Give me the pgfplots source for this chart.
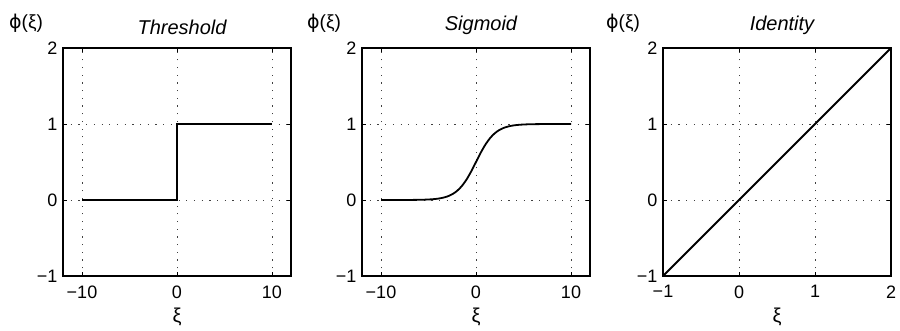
\documentclass[border=0pt]{standalone}
\usepackage{fontspec}
\setmainfont{Liberation Sans}
\newfontfamily\dv{DejaVu Sans}
\usepackage{pgfplots}
\pgfplotsset{compat=1.18}
\pgfplotsset{
  myax/.style={
    scale only axis, width=228pt, height=228pt, anchor=south west,
    clip mode=individual,
    ymin=-1, ymax=2, ytick={-1,0,1,2}, yticklabels={−1,0,1,2},
    grid=major,
    major grid style={black!75, line width=1pt, dash pattern=on 1.2pt off 6.5pt},
    axis line style={line width=1.3pt},
    tick style={black, line width=0.8pt},
    tick align=inside, major tick length=4pt,
    tick label style={font=\fontsize{18}{20}\selectfont},
    yticklabel style={xshift=-2pt},
    xticklabel style={yshift=-6pt},
    title style={font=\fontsize{20}{22}\selectfont\itshape, yshift=4pt, xshift=5pt},
    xlabel={ξ},
    xlabel style={font=\fontsize{20}{22}\selectfont, yshift=-3pt},
  }
}
\begin{document}
\begin{tikzpicture}
\useasboundingbox (0pt,0pt) rectangle (900pt,330pt);
% Threshold
\begin{axis}[myax, at={(63pt,54pt)}, title={Threshold},
  xmin=-12, xmax=12, xtick={-10,0,10}, xticklabels={−10,0,10}]
\addplot[black, no markers, line width=1.8pt] coordinates {(-10,0) (0,0) (0,1) (10,1)};
\node[font=\fontsize{19}{21}\selectfont] at (rel axis cs:0,1) [xshift=-37pt,yshift=25pt] {{\dv ϕ}(ξ)};
\end{axis}
% Sigmoid
\begin{axis}[myax, at={(362pt,54pt)}, title={Sigmoid},
  xmin=-12, xmax=12, xtick={-10,0,10}, xticklabels={−10,0,10}]
\addplot[black, no markers, line width=1.8pt, smooth] coordinates {
(-10,0.0000454) (-9.5,0.0000749) (-9,0.000123) (-8.5,0.000203) (-8,0.000335)
(-7.5,0.000553) (-7,0.000911) (-6.5,0.001501) (-6,0.002473) (-5.5,0.004070)
(-5,0.006693) (-4.5,0.010987) (-4,0.017986) (-3.5,0.029312) (-3,0.047426)
(-2.5,0.075858) (-2,0.119203) (-1.5,0.182426) (-1,0.268941) (-0.5,0.377541)
(0,0.5) (0.5,0.622459) (1,0.731059) (1.5,0.817574) (2,0.880797)
(2.5,0.924142) (3,0.952574) (3.5,0.970688) (4,0.982014) (4.5,0.989013)
(5,0.993307) (5.5,0.995930) (6,0.997527) (6.5,0.998499) (7,0.999089)
(7.5,0.999447) (8,0.999665) (8.5,0.999797) (9,0.999877) (9.5,0.999925) (10,0.999955)};
\node[font=\fontsize{19}{21}\selectfont] at (rel axis cs:0,1) [xshift=-38pt,yshift=25pt] {{\dv ϕ}(ξ)};
\end{axis}
% Identity
\begin{axis}[myax, at={(663pt,54pt)}, title={Identity},
  xmin=-1, xmax=2, xtick={-1,0,1,2}, xticklabels={−1,0,1,2}]
\addplot[black, no markers, line width=1.8pt] coordinates {(-1,-1) (2,2)};
\node[font=\fontsize{19}{21}\selectfont] at (rel axis cs:0,1) [xshift=-40pt,yshift=25pt] {{\dv ϕ}(ξ)};
\end{axis}
\end{tikzpicture}
\end{document}
